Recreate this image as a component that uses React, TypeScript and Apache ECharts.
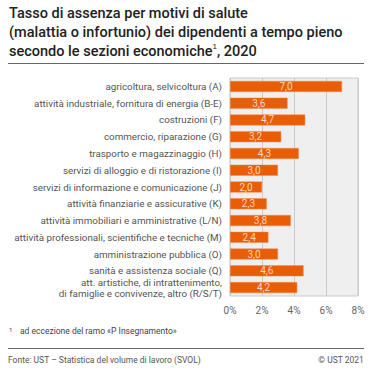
import React, { useEffect, useRef } from "react";
import * as echarts from "echarts";

const categories = [
  "agricoltura, selvicoltura (A)",
  "attività industriale, fornitura di energia (B-E)",
  "costruzioni (F)",
  "commercio, riparazione (G)",
  "trasporto e magazzinaggio (H)",
  "servizi di alloggio e di ristorazione (I)",
  "servizi di informazione e comunicazione (J)",
  "attività finanziarie e assicurative (K)",
  "attività immobiliari e amministrative (L/N)",
  "attività professionali, scientifiche e tecniche (M)",
  "amministrazione pubblica (O)",
  "sanità e assistenza sociale (Q)",
  "att. artistiche, di intrattenimento,\ndi famiglie e convivenze, altro (R/S/T)",
];
const values = [7.0, 3.6, 4.7, 3.2, 4.3, 3.0, 2.0, 2.3, 3.8, 2.4, 3.0, 4.6, 4.2];
const xTicks = [0, 2, 4, 6, 8];

const FONT = "Roboto, 'Noto Sans', sans-serif";

export default function App() {
  const ref = useRef<HTMLDivElement>(null);
  useEffect(() => {
    if (!ref.current) return;
    const chart = echarts.init(ref.current, undefined, { renderer: "svg" });
    chart.setOption({
      animation: false,
      textStyle: { fontFamily: FONT },
      grid: {
        left: 230,
        right: 34,
        top: 78,
        bottom: 76,
        show: true,
        backgroundColor: "#efefef",
        borderColor: "#c9c9c9",
        borderWidth: 1,
      },
      xAxis: {
        type: "value",
        min: xTicks[0],
        max: xTicks[xTicks.length - 1],
        interval: 2,
        axisLine: { show: false },
        axisTick: { show: false },
        splitLine: { show: true, lineStyle: { color: "#c9c9c9", width: 1 } },
        axisLabel: {
          formatter: (v: number) => `${v}%`,
          color: "#666",
          fontSize: 10,
          fontFamily: FONT,
          margin: 9,
        },
      },
      yAxis: {
        type: "category",
        data: categories,
        inverse: true,
        axisLine: { show: false },
        axisTick: { show: false },
        splitLine: { show: false },
        axisLabel: {
          color: "#555",
          fontSize: 9.8,
          fontFamily: FONT,
          margin: 8,
          lineHeight: 11,
        },
      },
      series: [
        {
          type: "bar",
          data: values,
          barWidth: 11,
          itemStyle: { color: "#e95d06", borderColor: "#f28c4f", borderWidth: 0.5 },
          label: {
            show: true,
            position: "inside",
            color: "#fcd7bd",
            fontSize: 10,
            fontFamily: FONT,
            formatter: (p: any) => p.value.toFixed(1).replace(".", ","),
          },
        },
      ],
      graphic: [
        {
          type: "text",
          left: 9,
          top: 4,
          style: {
            text: "Tasso di assenza per motivi di salute\n(malattia o infortunio) dei dipendenti a tempo pieno\nsecondo le sezioni economiche{sup|1}, 2020",
            fontSize: 14.5,
            fontWeight: 500,
            fontFamily: FONT,
            fill: "#222",
            lineHeight: 19,
            rich: {
              sup: { fontSize: 8, verticalAlign: "top", padding: [0, 0, 6, 0], fontWeight: 500, fill: "#222" },
            } as any,
          },
        },
        {
          type: "line",
          shape: { x1: 8, y1: 63.5, x2: 364, y2: 63.5 },
          style: { stroke: "#666", lineWidth: 1 },
        },
        {
          type: "text",
          left: 9,
          top: 326,
          style: { text: "1", fontSize: 6, fill: "#444", fontFamily: FONT },
        },
        {
          type: "text",
          left: 20,
          top: 326,
          style: { text: "ad eccezione del ramo «P Insegnamento»", fontSize: 8.5, fill: "#444", fontFamily: FONT },
        },
        {
          type: "line",
          shape: { x1: 8, y1: 348.5, x2: 364, y2: 348.5 },
          style: { stroke: "#666", lineWidth: 1 },
        },
        {
          type: "text",
          left: 8,
          top: 355,
          style: { text: "Fonte: UST – Statistica del volume di lavoro (SVOL)", fontSize: 8.5, fill: "#555", fontFamily: FONT },
        },
        {
          type: "text",
          right: 28,
          top: 355,
          style: { text: "© UST 2021", fontSize: 8.5, fill: "#555", fontFamily: FONT },
        },
      ],
    });
    return () => chart.dispose();
  }, []);
  return (
    <div
      ref={ref}
      style={{ position: "fixed", left: 0, top: 0, width: 392, height: 372, background: "#fff" }}
    />
  );
}
